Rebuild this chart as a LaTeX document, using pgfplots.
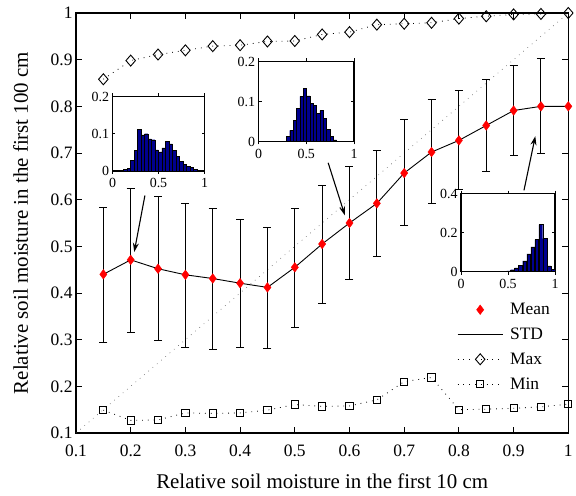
\documentclass[border=0pt]{standalone}
\usepackage{fontspec}
\setmainfont{Liberation Serif}
\usepackage{pgfplots}
\pgfplotsset{compat=1.18}
\usepackage{pgfplotstable}
\usetikzlibrary{arrows.meta}
\definecolor{barblue}{RGB}{0,0,143}
\definecolor{meanred}{RGB}{255,0,0}

% mean, std (plus/minus), max and min per class of top-layer moisture
\pgfplotstableread{
x    y     ep    em    mx    mn
0.15 0.440 0.144 0.145 0.858 0.149
0.20 0.471 0.154 0.156 0.898 0.127
0.25 0.452 0.155 0.153 0.911 0.128
0.30 0.439 0.152 0.155 0.920 0.143
0.35 0.431 0.151 0.151 0.929 0.142
0.40 0.421 0.137 0.137 0.931 0.143
0.45 0.412 0.128 0.130 0.939 0.149
0.50 0.455 0.126 0.129 0.940 0.161
0.55 0.505 0.126 0.127 0.954 0.157
0.60 0.550 0.121 0.120 0.959 0.158
0.65 0.592 0.114 0.114 0.975 0.171
0.70 0.657 0.115 0.113 0.977 0.210
0.75 0.702 0.113 0.111 0.979 0.219
0.80 0.727 0.108 0.106 0.988 0.150
0.85 0.759 0.099 0.098 0.993 0.151
0.90 0.791 0.097 0.097 0.997 0.153
0.95 0.800 0.103 0.102 0.998 0.156
1.00 0.800 0.000 0.000 1.000 0.162
}\stats

% histograms of the insets
\pgfplotstableread{
x     h
0.100 0.002
0.138 0.004
0.176 0.008
0.214 0.028
0.252 0.055
0.290 0.111
0.328 0.097
0.366 0.100
0.404 0.086
0.442 0.084
0.480 0.057
0.518 0.051
0.556 0.062
0.594 0.079
0.632 0.073
0.670 0.055
0.708 0.040
0.746 0.026
0.784 0.017
0.822 0.012
0.860 0.009
0.898 0.004
}\histA

\pgfplotstableread{
x     h
0.310 0.012
0.345 0.028
0.380 0.052
0.415 0.083
0.450 0.113
0.485 0.133
0.520 0.114
0.555 0.095
0.590 0.091
0.625 0.071
0.660 0.077
0.695 0.058
0.730 0.031
0.765 0.012
0.800 0.004
}\histB

\pgfplotstableread{
x     h
0.462 0.002
0.505 0.004
0.548 0.010
0.591 0.020
0.634 0.032
0.677 0.055
0.720 0.092
0.763 0.127
0.806 0.165
0.849 0.242
0.892 0.170
0.935 0.030
0.978 0.012
}\histC

\pgfplotsset{
  inset/.style={
    scale only axis, width=93bp, height=77bp,
    axis background/.style={fill=white},
    xmin=0, xmax=1, ymin=0,
    xtick={0,0.5,1},
    tick align=inside, major tick length=3bp,
    tick style={black, line width=0.6bp},
    axis line style={line width=1.1bp},
    tick label style={font=\fontsize{14}{16}\selectfont},
    xticklabel style={yshift=-1bp},
    /pgf/number format/assume math mode=true,
    ybar, bar width=0.036,
  },
  histbar/.style={fill=barblue, draw=black, line width=0.4bp},
}

\begin{document}
\begin{tikzpicture}
\path (-76bp,-63bp) rectangle (500bp,433bp);
\begin{axis}[
  name=main,
  scale only axis, width=492.3bp, height=420bp,
  xmin=0.1, xmax=1, ymin=0.1, ymax=1,
  xtick={0.1,0.2,0.3,0.4,0.5,0.6,0.7,0.8,0.9,1},
  ytick={0.1,0.2,0.3,0.4,0.5,0.6,0.7,0.8,0.9,1},
  clip=false,
  tick align=inside, major tick length=6bp,
  tick style={black, line width=0.8bp},
  axis line style={line width=1.2bp},
  tick label style={font=\fontsize{17.5}{20}\selectfont},
  /pgf/number format/assume math mode=true,
  xticklabel style={yshift=-8bp},
  label style={font=\fontsize{21}{24}\selectfont},
  xlabel={Relative soil moisture in the first 10 cm},
  ylabel={Relative soil moisture in the first 100 cm},
  xlabel style={at={(axis description cs:0.5,-0.131)}, anchor=base},
  ylabel style={at={(axis description cs:-0.0975,0.5)}, anchor=base},
  legend style={draw=none, fill=none, at={(0.774,0.314)}, anchor=north west,
    inner sep=0pt, row sep=7.8bp, column sep=5bp,
    font=\fontsize{17.5}{20}\selectfont},
  legend cell align=left,
  legend image code/.code={\draw[mark repeat=2,mark phase=2,#1]
    plot coordinates {(0bp,0bp) (22.5bp,0bp) (45bp,0bp)};},
]
\addlegendimage{only marks, mark=diamond*, mark size=4.8bp, meanred, mark options={fill=meanred, draw=meanred}}
\addlegendentry{Mean}

\addplot[black, line width=0.9bp, mark=none] table[x=x, y=y] {\stats};
\addlegendentry{STD}

\addplot[black, line width=0.8bp, dash pattern=on 0.8bp off 5bp,
  mark=diamond, mark size=5.5bp,
  mark options={solid, xscale=1.15, line width=0.9bp}] table[x=x, y=mx] {\stats};
\addlegendentry{Max}

\addplot[black, line width=0.8bp, dash pattern=on 0.8bp off 5bp,
  mark=square, mark size=3.6bp,
  mark options={solid, line width=0.9bp}] table[x=x, y=mn] {\stats};
\addlegendentry{Min}

% 1:1 line
\addplot[black!70, line width=0.6bp, dash pattern=on 0.6bp off 5bp, forget plot]
  coordinates {(0.1,0.1) (1,1)};

% error bars (std), none at the last class
\addplot[black, only marks, mark=none, forget plot,
  skip coords between index={17}{18},
  error bars/.cd, y dir=both, y explicit,
  error bar style={line width=0.9bp},
  error mark options={rotate=90, mark size=4bp, line width=0.9bp}]
  table[x=x, y=y, y error plus=ep, y error minus=em] {\stats};

\addplot[only marks, mark=diamond*, mark size=4.8bp, forget plot,
  mark options={fill=meanred, draw=meanred}] table[x=x, y=y] {\stats};

% arrows from the insets
\draw[line width=1.1bp, -{Stealth[length=9bp, width=6bp]}]
  (axis cs:0.226,0.609) -- (axis cs:0.2065,0.488);
\draw[line width=1.1bp, -{Stealth[length=9bp, width=6bp]}]
  (axis cs:0.561,0.679) -- (axis cs:0.5915,0.5665);
\draw[line width=1.1bp, -{Stealth[length=9bp, width=6bp]}]
  (axis cs:0.919,0.620) -- (axis cs:0.9397,0.736);
\end{axis}

\begin{axis}[inset, at={(36.5bp,262bp)}, anchor=south west,
  width=92bp, height=74.5bp, ymax=0.2, ytick={0,0.1,0.2}]
\addplot[histbar] table[x=x, y=h] {\histA};
\end{axis}

\begin{axis}[inset, at={(182.5bp,291.5bp)}, anchor=south west,
  width=95.5bp, height=80bp, ymax=0.2, ytick={0,0.1,0.2}]
\addplot[histbar] table[x=x, y=h] {\histB};
\end{axis}

\begin{axis}[inset, at={(385bp,161.3bp)}, anchor=south west,
  width=94bp, height=78bp, ymax=0.4, ytick={0,0.2,0.4}, bar width=0.041]
\addplot[histbar] table[x=x, y=h] {\histC};
\end{axis}
\end{tikzpicture}
\end{document}
